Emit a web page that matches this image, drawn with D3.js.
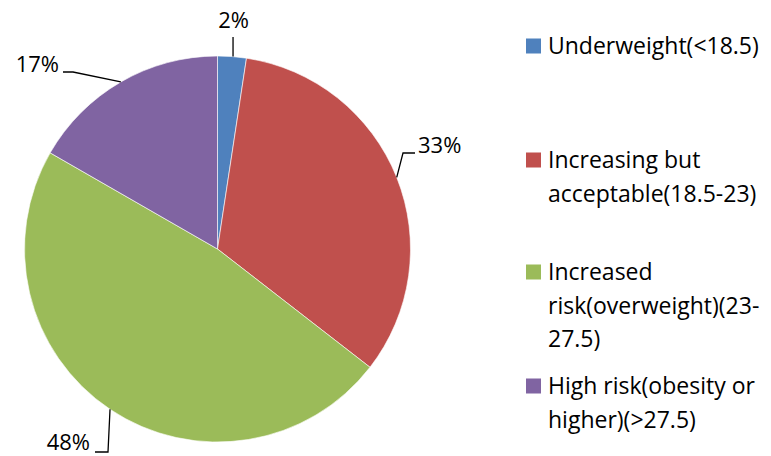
<!DOCTYPE html>
<html>
<head>
<meta charset="utf-8">
<script src="https://cdn.jsdelivr.net/npm/d3@7"></script>
<style>
  body { margin: 0; background: #fff; }
  text { font-family: "Open Sans", "Noto Sans", sans-serif; fill: #000; }
</style>
</head>
<body>
<div id="chart"></div>
<script>
// data
var categories = ["Underweight(<18.5)", "Increasing but acceptable(18.5-23)",
                  "Increased risk(overweight)(23-27.5)", "High risk(obesity or higher)(>27.5)"];
var values = [2.4, 33.1, 47.8, 16.7];
var legendLines = [
    ["Underweight(<18.5)"],
    ["Increasing but", "acceptable(18.5-23)"],
    ["Increased", "risk(overweight)(23-", "27.5)"],
    ["High risk(obesity or", "higher)(>27.5)"]
];
var colors = ["#4F81BD", "#C0504D", "#9BBB59", "#8064A2"];

var width = 771, height = 456;
var cx = 217.5, cy = 249, radius = 193;

var svg = d3.select("#chart").append("svg")
    .attr("width", width)
    .attr("height", height);

var g = svg.append("g").attr("transform", "translate(" + cx + "," + cy + ")");

var pie = d3.pie().sort(null).value(function(d) { return d; });
var arc = d3.arc().innerRadius(0).outerRadius(radius);
var arcs = pie(values);
var total = d3.sum(values);

g.selectAll("path")
    .data(arcs)
    .enter().append("path")
    .attr("d", arc)
    .attr("fill", function(d, i) { return colors[i]; })
    .attr("stroke", "#fff")
    .attr("stroke-width", 0.6);

// leader lines: rim point -> elbow -> end (offsets relative to centre)
var elbows = [
    {ex: null, ey: -212, hx: null, anchor: "middle", tx: null, ty: -221},
    {ex: 185.5, ey: -96, hx: 197.5, anchor: "start", tx: 200.5, ty: -96},
    {ex: -109.5, ey: 203, hx: -122.5, anchor: "end", tx: -127.5, ty: 201},
    {ex: -144.5, ey: -177, hx: -154.5, anchor: "end", tx: -158.5, ty: -177}
];

arcs.forEach(function(d, i) {
    var mid = (d.startAngle + d.endAngle) / 2;
    var px = radius * Math.sin(mid), py = -radius * Math.cos(mid);
    var e = elbows[i];
    var pts;
    if (e.ex === null) {
        pts = [[px + 1, py], [px + 1, e.ey]];
    } else {
        pts = [[px, py], [e.ex, e.ey], [e.hx, e.ey]];
    }
    g.append("path")
        .attr("d", d3.line()(pts))
        .attr("fill", "none")
        .attr("stroke", "#000")
        .attr("stroke-width", 1.3);
    g.append("text")
        .attr("x", e.tx === null ? px + 1.5 : e.tx)
        .attr("y", e.ty)
        .attr("text-anchor", e.anchor)
        .style("font-size", "22px")
        .text(Math.round(d.data / total * 100) + "%");
});

// legend
var legendY = [46, 160, 272, 386];
var lineH = 33.5;
var legend = svg.append("g");
legendLines.forEach(function(lines, i) {
    legend.append("rect")
        .attr("x", 526)
        .attr("y", legendY[i] - 7.5)
        .attr("width", 15)
        .attr("height", 15)
        .attr("fill", colors[i]);
    lines.forEach(function(t, j) {
        legend.append("text")
            .attr("x", 548)
            .attr("y", legendY[i] + j * lineH)
            .attr("dy", "0.35em")
            .style("font-size", "23px")
            .text(t);
    });
});
</script>
</body>
</html>
